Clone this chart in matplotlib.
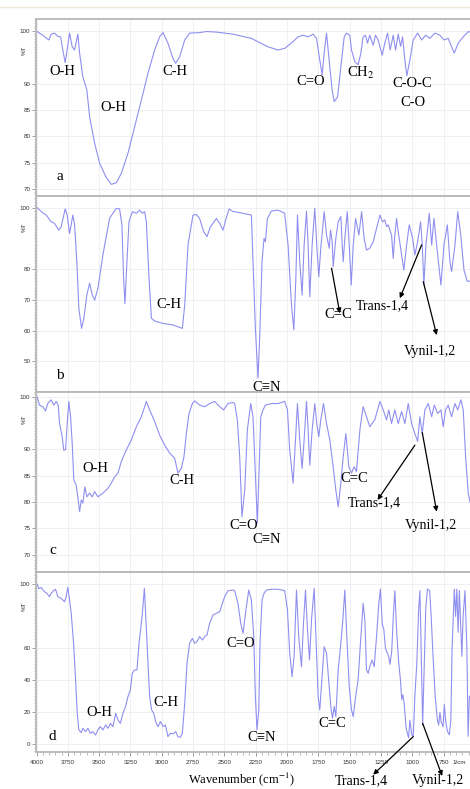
import matplotlib
matplotlib.use("Agg")
import matplotlib.pyplot as plt
from matplotlib.ticker import MultipleLocator, FixedLocator
from matplotlib.lines import Line2D
import matplotlib.transforms as mtrans

plt.rcParams['mathtext.fontset'] = 'stix'

# ---------------- data: spectrum a ----------------
wn_a = [3994, 3950, 3902, 3883, 3856, 3830, 3808, 3790, 3771, 3736,
        3715, 3696, 3670, 3656, 3630, 3598, 3576, 3536, 3496, 3448,
        3403, 3363, 3323, 3270, 3217, 3163, 3110, 3057, 3017, 2990,
        2951, 2911, 2889, 2857, 2817, 2778, 2698, 2644, 2564, 2431,
        2285, 2152, 2072, 2019, 1952, 1912, 1872, 1832, 1792, 1765,
        1739, 1720, 1704, 1685, 1659, 1640, 1624, 1597, 1571, 1544,
        1525, 1499, 1486, 1459, 1433, 1411, 1393, 1374, 1358, 1340,
        1313, 1294, 1273, 1241, 1220, 1198, 1177, 1153, 1134, 1113,
        1094, 1078, 1060, 1044, 1020, 993, 958, 926, 894, 860,
        820, 780, 746, 714, 666, 634, 594, 554, 540]
t_a = [99.9, 99.2, 98.3, 99.4, 99.6, 99.0, 98.9, 96.4, 94.0, 99.6,
       97.0, 96.4, 99.4, 95.8, 91.3, 88.8, 83.7, 78.7, 74.9, 72.4,
       70.9, 71.2, 73.0, 76.8, 81.8, 86.9, 92.0, 96.4, 98.9, 99.7,
       97.7, 94.8, 93.9, 95.1, 98.3, 99.6, 99.7, 99.9, 99.8, 99.4,
       98.6, 97.0, 96.4, 96.7, 98.0, 98.9, 99.2, 98.9, 99.4, 98.6,
       94.5, 91.7, 95.8, 99.6, 93.2, 88.8, 86.6, 87.5, 93.2, 98.9,
       99.6, 99.2, 96.4, 94.2, 93.6, 95.8, 98.9, 99.2, 97.7, 99.2,
       97.3, 99.2, 98.3, 95.4, 97.7, 99.6, 96.4, 99.2, 96.4, 99.4,
       97.1, 98.9, 94.5, 91.5, 94.5, 98.3, 99.6, 98.3, 99.2, 98.6,
       99.6, 99.2, 98.3, 98.6, 95.8, 97.7, 98.9, 99.9, 99.8]

# ---------------- data: spectrum b ----------------
wn_b = [3994, 3962, 3922, 3902, 3883, 3856, 3822, 3803, 3771, 3755,
        3736, 3710, 3696, 3678, 3662, 3640, 3622, 3598, 3576, 3555,
        3536, 3510, 3470, 3417, 3390, 3363, 3337, 3318, 3305, 3294,
        3281, 3262, 3235, 3203, 3177, 3155, 3137, 3123, 3102, 3083,
        3057, 2990, 2911, 2836, 2817, 2791, 2751, 2724, 2698, 2666,
        2639, 2612, 2591, 2564, 2538, 2511, 2490, 2463, 2431, 2418,
        2285, 2272, 2253, 2232, 2218, 2200, 2184, 2173, 2157, 2125,
        2072, 2019, 1992, 1965, 1946, 1930, 1917, 1899, 1880, 1864,
        1845, 1832, 1819, 1800, 1779, 1763, 1747, 1731, 1704, 1685,
        1664, 1653, 1640, 1632, 1611, 1592, 1571, 1560, 1552, 1539,
        1520, 1504, 1488, 1472, 1453, 1427, 1405, 1385, 1366, 1340,
        1313, 1286, 1259, 1238, 1220, 1206, 1193, 1166, 1153, 1140,
        1126, 1113, 1086, 1068, 1046, 1025, 998, 980, 958, 934,
        921, 908, 892, 865, 846, 828, 806, 772, 748, 721,
        700, 687, 660, 638, 614, 588, 562, 540]
t_b = [100.0, 98.7, 97.6, 96.5, 95.4, 94.9, 92.7, 93.8, 99.6, 97.6,
       91.6, 97.6, 94.4, 82.4, 67.2, 60.7, 64.0, 71.6, 75.4, 71.6,
       69.9, 73.7, 84.6, 96.5, 98.2, 99.8, 99.6, 94.4, 77.0, 68.8,
       80.0, 95.4, 98.7, 98.2, 99.2, 98.2, 98.7, 95.4, 77.0, 64.0,
       63.1, 62.3, 61.8, 60.7, 68.3, 87.8, 97.6, 97.8, 96.5, 92.2,
       90.6, 93.8, 94.9, 96.5, 94.9, 92.7, 96.0, 99.6, 98.7, 98.7,
       97.6, 82.4, 60.7, 44.5, 58.5, 82.4, 90.0, 88.9, 96.5, 98.9,
       99.2, 98.2, 87.8, 68.3, 60.2, 77.0, 97.6, 82.4, 71.6, 87.8,
       98.9, 87.8, 71.0, 87.8, 99.8, 87.8, 77.5, 86.8, 98.7, 91.1,
       86.8, 92.7, 88.9, 80.8, 90.0, 95.4, 97.1, 87.8, 82.4, 90.0,
       98.7, 87.8, 74.8, 87.8, 96.5, 91.1, 98.7, 90.0, 86.2, 86.8,
       88.9, 93.3, 97.6, 95.4, 96.0, 93.8, 94.4, 91.1, 83.5, 91.1,
       96.5, 92.2, 84.6, 79.7, 87.8, 94.4, 90.0, 84.6, 88.9, 95.4,
       87.8, 74.8, 87.8, 98.2, 87.8, 96.5, 87.8, 74.8, 87.8, 94.4,
       82.4, 79.2, 87.8, 98.7, 91.1, 79.7, 76.0, 76.1]

# ---------------- data: spectrum c ----------------
wn_c = [3994, 3976, 3950, 3928, 3910, 3883, 3862, 3843, 3827, 3816,
        3795, 3782, 3768, 3755, 3742, 3728, 3715, 3702, 3683, 3667,
        3656, 3643, 3630, 3614, 3598, 3576, 3555, 3536, 3510, 3470,
        3430, 3403, 3377, 3350, 3323, 3283, 3243, 3203, 3163, 3123,
        3097, 3057, 3017, 2977, 2937, 2897, 2871, 2844, 2823, 2804,
        2783, 2756, 2738, 2698, 2658, 2618, 2578, 2538, 2506, 2472,
        2431, 2418, 2397, 2378, 2360, 2338, 2317, 2290, 2272, 2253,
        2237, 2224, 2210, 2192, 2173, 2125, 2072, 2019, 1997, 1979,
        1952, 1933, 1917, 1899, 1880, 1864, 1845, 1832, 1819, 1800,
        1779, 1763, 1747, 1731, 1709, 1685, 1659, 1632, 1611, 1592,
        1571, 1552, 1531, 1507, 1486, 1465, 1446, 1419, 1393, 1366,
        1340, 1300, 1259, 1233, 1206, 1188, 1166, 1140, 1113, 1086,
        1060, 1033, 1006, 980, 958, 940, 921, 900, 873, 846,
        825, 798, 772, 754, 735, 714, 687, 660, 638, 612,
        594, 575, 554, 540]
t_c = [99.9, 98.4, 98.1, 97.3, 98.7, 99.4, 98.4, 99.1, 98.4, 94.9,
       92.4, 89.8, 90.0, 94.9, 99.1, 96.2, 91.1, 84.2, 83.2, 80.4,
       78.2, 80.4, 79.8, 82.9, 81.0, 81.7, 81.0, 82.0, 81.0, 81.7,
       82.6, 83.6, 84.8, 85.5, 87.7, 89.9, 91.8, 94.3, 96.2, 99.1,
       97.5, 95.3, 92.7, 90.8, 89.3, 88.3, 85.5, 86.4, 88.6, 93.0,
       96.8, 98.7, 99.2, 98.4, 98.1, 98.7, 99.1, 98.1, 97.5, 98.7,
       98.9, 98.7, 95.6, 88.6, 77.2, 82.3, 93.7, 98.7, 96.2, 85.5,
       76.0, 85.5, 96.2, 97.5, 98.4, 98.7, 98.7, 99.1, 97.5, 89.9,
       83.6, 91.8, 98.7, 91.8, 86.4, 91.8, 99.1, 93.7, 87.0, 93.7,
       98.7, 94.9, 92.4, 95.6, 98.7, 94.9, 91.8, 86.7, 82.3, 79.1,
       83.6, 88.6, 93.0, 86.7, 85.5, 86.7, 85.8, 93.7, 98.1, 96.2,
       94.3, 95.6, 99.1, 97.5, 95.6, 97.5, 94.9, 97.5, 94.9, 97.2,
       94.9, 98.7, 94.9, 93.0, 91.5, 96.2, 93.0, 97.5, 98.7, 96.2,
       98.4, 96.8, 97.5, 94.3, 97.5, 98.4, 96.2, 98.7, 97.5, 99.4,
       97.5, 88.6, 81.7, 80.0]

# ---------------- data: spectrum d ----------------
wn_d = [3994, 3982, 3962, 3936, 3918, 3896, 3883, 3864, 3848, 3830,
        3803, 3776, 3763, 3750, 3736, 3723, 3704, 3688, 3675, 3662,
        3643, 3630, 3608, 3590, 3571, 3550, 3528, 3510, 3491, 3470,
        3448, 3430, 3409, 3390, 3368, 3350, 3331, 3310, 3289, 3270,
        3251, 3235, 3217, 3198, 3182, 3169, 3155, 3139, 3123, 3110,
        3097, 3081, 3065, 3049, 3030, 3011, 2990, 2971, 2951, 2932,
        2911, 2889, 2871, 2852, 2836, 2817, 2799, 2778, 2756, 2738,
        2719, 2698, 2676, 2658, 2639, 2618, 2591, 2564, 2538, 2516,
        2498, 2472, 2431, 2418, 2392, 2370, 2351, 2332, 2306, 2285,
        2266, 2253, 2240, 2226, 2216, 2200, 2184, 2165, 2125, 2072,
        2019, 1997, 1979, 1960, 1944, 1925, 1907, 1885, 1869, 1853,
        1837, 1821, 1805, 1784, 1765, 1752, 1739, 1726, 1704, 1685,
        1664, 1648, 1637, 1624, 1611, 1592, 1571, 1555, 1539, 1523,
        1504, 1486, 1472, 1453, 1433, 1411, 1393, 1379, 1366, 1353,
        1340, 1321, 1305, 1286, 1268, 1255, 1240, 1228, 1215, 1200,
        1190, 1178, 1165, 1152, 1140, 1125, 1110, 1095, 1085, 1075,
        1065, 1050, 1030, 1020, 1005, 993, 980, 965, 950, 940,
        930, 918, 905, 893, 880, 862, 850, 835, 818, 800,
        790, 780, 770, 755, 745, 735, 720, 705, 693, 683,
        665, 655, 645, 635, 625, 615, 605, 595, 580, 565,
        555, 545]
t_d = [100.0, 97.3, 98.0, 95.3, 94.4, 92.3, 94.4, 96.0, 96.9, 92.3,
       91.2, 89.1, 92.3, 98.1, 90.2, 81.9, 63.1, 40.2, 19.4, 9.0,
       7.3, 10.0, 7.9, 10.0, 6.9, 7.9, 5.8, 9.0, 11.0, 9.0,
       12.1, 10.0, 13.1, 11.0, 19.4, 15.2, 13.1, 19.4, 23.6, 29.8,
       34.0, 44.4, 46.5, 46.5, 63.1, 71.5, 81.9, 97.5, 71.5, 50.6,
       29.8, 21.5, 19.4, 14.2, 11.0, 14.2, 11.0, 12.1, 4.8, 6.9,
       6.5, 7.9, 4.8, 4.4, 6.9, 25.6, 50.6, 63.1, 66.2, 63.1,
       64.2, 67.3, 65.2, 67.3, 68.3, 75.6, 80.8, 81.9, 82.9, 88.1,
       92.3, 96.0, 96.4, 96.0, 88.1, 75.6, 69.4, 81.9, 96.4, 90.2,
       67.3, 29.8, 9.0, 21.5, 63.1, 90.2, 94.4, 96.4, 96.9, 96.9,
       96.0, 83.9, 56.9, 42.3, 54.8, 96.4, 67.3, 48.5, 75.6, 96.4,
       71.5, 52.7, 77.7, 97.5, 56.9, 29.8, 21.5, 36.0, 61.0, 56.9,
       36.0, 21.5, 16.3, 23.6, 17.3, 46.5, 63.1, 77.7, 96.4, 67.3,
       36.0, 21.5, 17.3, 29.8, 40.2, 67.3, 88.1, 77.7, 46.5, 44.4,
       48.5, 52.7, 48.5, 67.0, 88.0, 97.0, 75.0, 72.0, 60.0, 57.0,
       55.0, 50.0, 58.0, 80.0, 96.0, 70.0, 52.0, 40.0, 28.0, 31.0,
       25.0, 10.0, 4.0, 15.0, 6.0, 5.0, 30.0, 50.0, 84.0, 96.0,
       60.0, 12.0, 50.0, 85.0, 97.0, 96.0, 80.0, 55.0, 30.0, 15.0,
       12.0, 20.0, 14.0, 11.0, 25.0, 15.0, 8.0, 6.0, 15.0, 60.0,
       97.0, 80.0, 97.0, 70.0, 96.0, 75.0, 55.0, 80.0, 96.0, 60.0,
       5.0, 30.0]

# y tick labels per panel
yt_a = [70, 75, 80, 85, 90, 100]
yt_b = [50, 60, 70, 80, 100]
yt_c = [70, 75, 80, 85, 90, 100]
yt_d = [0, 20, 40, 60, 100]
xt = [4000, 3750, 3500, 3250, 3000, 2750, 2500, 2250, 2000, 1750, 1500, 1250, 1000, 750]

# ---------------- styling ----------------
LINE = '#8f8ff0'
SERIF = ['Liberation Serif', 'DejaVu Serif']
SANS = ['Liberation Sans', 'DejaVu Sans']
W, H = 470, 789

fig = plt.figure(figsize=(W / 100, H / 100), dpi=100)
fig.patch.set_facecolor('white')
fig.add_artist(Line2D([0, 1], [1 - 7 / H] * 2, color='#f1e9dd', lw=1.0,
                      transform=fig.transFigure))


def make_ax(ytop, ybot, ylim, yticks, yminor, wn, t, tlabel_v, bottom=False):
    left = 36 / W
    ax = fig.add_axes([left, 1 - ybot / H, 1 - left, (ybot - ytop) / H])
    ax.plot(wn, t, color=LINE, lw=0.8)
    ax.set_xlim(4004, 540)
    ax.set_ylim(*ylim)
    ax.xaxis.set_major_locator(FixedLocator(xt))
    ax.xaxis.set_minor_locator(MultipleLocator(50))
    ax.yaxis.set_major_locator(FixedLocator(yticks))
    ax.yaxis.set_minor_locator(MultipleLocator(yminor))
    ax.grid(True, which='major', color='#ececf4', lw=0.6)
    ax.set_axisbelow(True)
    for s in ['top', 'bottom', 'left']:
        ax.spines[s].set_color('#b8b8b8')
        ax.spines[s].set_linewidth(1.3)
    ax.spines['right'].set_visible(False)
    ax.tick_params(axis='y', which='major', length=3, width=0.5, color='#777',
                   labelsize=4.5, pad=1, labelcolor='#333')
    ax.tick_params(axis='y', which='minor', length=1.6, width=0.4, color='#888')
    for lab in ax.get_yticklabels():
        lab.set_fontfamily(SANS)
    if bottom:
        ax.tick_params(axis='x', which='major', length=3, width=0.5, color='#777',
                       labelsize=4.5, pad=3, labelcolor='#333')
        ax.tick_params(axis='x', which='minor', length=1.8, width=0.4, color='#888')
        ax.set_xticklabels([str(v) for v in xt], fontfamily=SANS)
        tr = mtrans.blended_transform_factory(ax.transData, ax.transAxes)
        ax.text(628, -0.058, '1/cm', transform=tr, fontsize=4.5, color='#333',
                family=SANS, ha='center', va='center')
    else:
        ax.tick_params(axis='x', which='both', length=0, labelbottom=False)
    trY = mtrans.blended_transform_factory(ax.transAxes, ax.transData)
    ax.text(-12 / 434, tlabel_v, '%T', transform=trY, rotation=90, fontsize=4.5,
            color='#333', family=SANS, ha='center', va='center')
    return ax


def lab(ax, x, y, s, fs=10.5):
    ax.text(x, y, s, fontsize=fs, family=SERIF, ha='center', va='center',
            clip_on=False)


def arrow(ax, tail, head):
    ax.annotate('', xy=head, xytext=tail, annotation_clip=False,
                arrowprops=dict(arrowstyle='-|>', color='black', lw=0.9,
                                mutation_scale=7, shrinkA=0, shrinkB=0))


# panel a
ax_a = make_ax(19, 196, (68.69, 102.28), yt_a, 0.5, wn_a, t_a, 96.4)
lab(ax_a, 3792, 92.4, 'O-H')
lab(ax_a, 3385, 85.5, 'O-H')
lab(ax_a, 2897, 92.4, 'C-H')
lab(ax_a, 1811, 90.4, 'C=O')
lab(ax_a, 1411, 92.1, 'CH$_2$')
lab(ax_a, 1004, 90.1, 'C-O-C')
lab(ax_a, 996, 86.4, 'C-O')
lab(ax_a, 3816, 72.3, 'a', 11)

# panel b
ax_b = make_ax(196, 392, (39.97, 103.81), yt_b, 1, wn_b, t_b, 93.7)
lab(ax_b, 2945, 68.4, 'C-H')
lab(ax_b, 3816, 45.5, 'b', 11)
lab(ax_b, 2165, 41.4, 'C\u2261N')
lab(ax_b, 1595, 65.2, 'C=C')
lab(ax_b, 1239, 68.0, 'Trans-1,4', 10)
lab(ax_b, 860, 53.1, 'Vynil-1,2', 10)
arrow(ax_b, (1645, 80.3), (1579, 65.6))
arrow(ax_b, (926, 87.9), (1100, 70.5))
arrow(ax_b, (913, 75.9), (806, 58.5))

# panel c
ax_c = make_ax(392, 572, (66.74, 100.89), yt_c, 0.5, wn_c, t_c, 95.8)
lab(ax_c, 3529, 86.4, 'O-H')
lab(ax_c, 2837, 84.1, 'C-H')
lab(ax_c, 3872, 70.9, 'c', 11)
lab(ax_c, 2346, 75.6, 'C=O')
lab(ax_c, 2165, 73.0, 'C\u2261N')
lab(ax_c, 1465, 84.4, 'C=C')
lab(ax_c, 1306, 79.8, 'Trans-1,4', 10)
lab(ax_c, 852, 75.5, 'Vynil-1,2', 10)
arrow(ax_c, (980, 90.8), (1278, 80.4))
arrow(ax_c, (921, 93.2), (806, 78.2))

# panel d
ax_d = make_ax(572, 752, (-4.81, 107.69), yt_d, 2, wn_d, t_d, 86.4, bottom=True)
lab(ax_d, 3502, 20.1, 'O-H')
lab(ax_d, 2967, 26.3, 'C-H')
lab(ax_d, 3872, 4.6, 'd', 11)
lab(ax_d, 2370, 63.3, 'C=O')
lab(ax_d, 2205, 4.2, 'C\u2261N')
lab(ax_d, 1643, 13.3, 'C=C')
lab(ax_d, 1406, -22.6, 'Trans-1,4', 10)
lab(ax_d, 796, -22.6, 'Vynil-1,2', 10)
arrow(ax_d, (993, 4.8), (1313, -19.0))
arrow(ax_d, (918, 13.1), (762, -19.8))

fig.text(241 / W, 1 - 779 / H, 'Wavenumber (cm$^{-1}$)', fontsize=9,
         family=SERIF, ha='center', va='center')

fig.savefig('out.png', dpi=100, facecolor='white')
